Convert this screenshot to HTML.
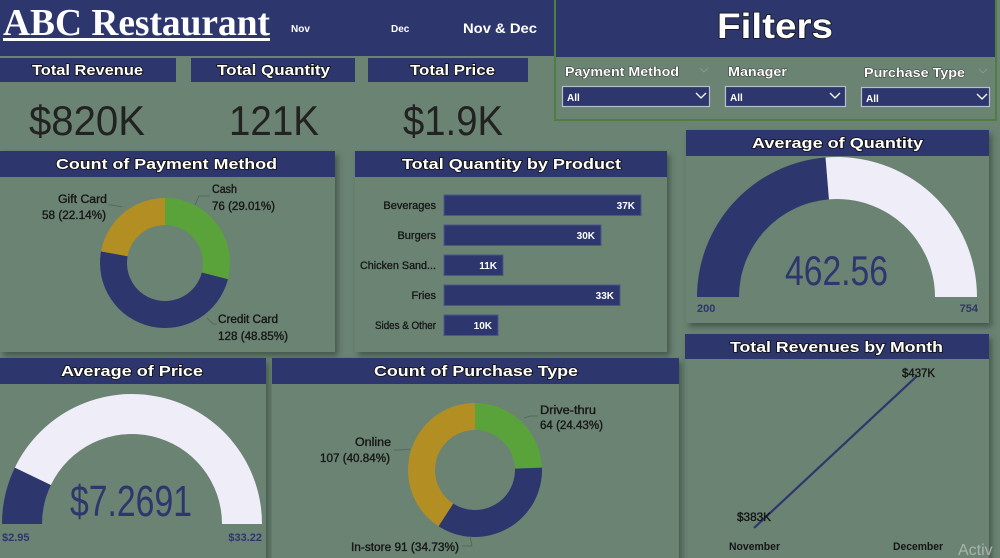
<!DOCTYPE html>
<html><head><meta charset="utf-8">
<style>
html,body{margin:0;padding:0;background:#6a8373;width:1000px;height:558px;overflow:hidden;}
svg{display:block;}
text{font-family:"Liberation Sans",sans-serif;}
.tt{font-weight:bold;fill:#fff;stroke:#111;stroke-width:1.6;paint-order:stroke;font-size:15px;}
.lb{font-size:11.5px;fill:#161616;stroke:#161616;stroke-width:0.35;}
.nv{fill:#2d376d;}
</style></head><body>
<svg width="1000" height="558" viewBox="0 0 1000 558" xmlns="http://www.w3.org/2000/svg">
<defs>
<filter id="sh" x="-5%" y="-5%" width="115%" height="115%">
<feDropShadow dx="3" dy="4" stdDeviation="3" flood-color="#2f3b33" flood-opacity="0.6"/>
</filter>
</defs>
<rect x="0" y="0" width="1000" height="558" fill="#6a8373"/>

<!-- header -->
<rect x="0" y="0" width="556" height="56" class="nv"/>
<text x="3" y="35" font-family="Liberation Serif" font-weight="bold" font-size="38" fill="#fff" textLength="267" lengthAdjust="spacingAndGlyphs" style="font-family:'Liberation Serif',serif">ABC Restaurant</text>
<rect x="3" y="38" width="267" height="3" fill="#fff"/>
<text x="291" y="32" font-size="10" font-weight="bold" fill="#fff">Nov</text>
<text x="391" y="32" font-size="10" font-weight="bold" fill="#fff">Dec</text>
<text x="463" y="33" font-size="13.5" font-weight="bold" fill="#fff" textLength="74" lengthAdjust="spacingAndGlyphs">Nov &amp; Dec</text>

<!-- filter panel -->
<rect x="555" y="0" width="441" height="120" fill="#6a8373" stroke="#4f7f40" stroke-width="2"/>
<rect x="556" y="0" width="439" height="57" class="nv"/>
<text x="775" y="38" text-anchor="middle" font-size="35" font-weight="bold" fill="#fff" stroke="#111" stroke-width="1.5" paint-order="stroke" textLength="116" lengthAdjust="spacingAndGlyphs">Filters</text>
<text x="565" y="76" font-size="12.5" font-weight="bold" fill="#fff" stroke="#222" stroke-width="0.8" paint-order="stroke" textLength="114" lengthAdjust="spacingAndGlyphs">Payment Method</text>
<text x="728" y="76" font-size="12.5" font-weight="bold" fill="#fff" stroke="#222" stroke-width="0.8" paint-order="stroke" textLength="59" lengthAdjust="spacingAndGlyphs">Manager</text>
<text x="864" y="77" font-size="12.5" font-weight="bold" fill="#fff" stroke="#222" stroke-width="0.8" paint-order="stroke" textLength="101" lengthAdjust="spacingAndGlyphs">Purchase Type</text>
<polyline points="700,68 704,72 708,68" fill="none" stroke="#8a9a8e" stroke-width="1"/>
<polyline points="979,69 983,73 987,69" fill="none" stroke="#8a9a8e" stroke-width="1"/>
<rect x="562.5" y="86.5" width="147" height="20" class="nv" stroke="#b9bfc9" stroke-width="1.2"/>
<rect x="725.5" y="86.5" width="120" height="20" class="nv" stroke="#b9bfc9" stroke-width="1.2"/>
<rect x="861.5" y="87.5" width="128" height="19" class="nv" stroke="#b9bfc9" stroke-width="1.2"/>
<text x="567" y="101" font-size="10" font-weight="bold" fill="#fff">All</text>
<text x="730" y="101" font-size="10" font-weight="bold" fill="#fff">All</text>
<text x="866" y="102" font-size="10" font-weight="bold" fill="#fff">All</text>
<polyline points="696,93 701,98 706,93" fill="none" stroke="#fff" stroke-width="1.3"/>
<polyline points="830,93 835,98 840,93" fill="none" stroke="#fff" stroke-width="1.3"/>
<polyline points="977,94 982,99 987,94" fill="none" stroke="#fff" stroke-width="1.3"/>

<!-- KPI -->
<rect x="0" y="58" width="176" height="24" class="nv"/>
<rect x="191" y="58" width="164" height="24" class="nv"/>
<rect x="368" y="58" width="160" height="24" class="nv"/>
<text x="32" y="75" class="tt" textLength="111" lengthAdjust="spacingAndGlyphs">Total Revenue</text>
<text x="217" y="75" class="tt" textLength="113" lengthAdjust="spacingAndGlyphs">Total Quantity</text>
<text x="410" y="75" class="tt" textLength="85" lengthAdjust="spacingAndGlyphs">Total Price</text>
<text x="29" y="135" font-size="42" fill="#222" textLength="116" lengthAdjust="spacingAndGlyphs">$820K</text>
<text x="229" y="135" font-size="42" fill="#222" textLength="90" lengthAdjust="spacingAndGlyphs">121K</text>
<text x="403" y="135" font-size="42" fill="#222" textLength="100" lengthAdjust="spacingAndGlyphs">$1.9K</text>

<!-- Panel: Count of Payment Method -->
<rect x="0" y="151" width="335" height="201" fill="#6a8373" filter="url(#sh)"/>
<rect x="0" y="151" width="335" height="26" class="nv"/>
<text x="56" y="169" class="tt" textLength="221" lengthAdjust="spacingAndGlyphs">Count of Payment Method</text>
<path d="M165,198 A65,65 0 0 1 227.95,279.21 L201.80,272.48 A38,38 0 0 0 165,225 Z" fill="#5aa33a"/>
<path d="M227.95,279.21 A65,65 0 0 1 101.05,251.38 L127.61,256.21 A38,38 0 0 0 201.80,272.48 Z" class="nv"/>
<path d="M101.05,251.38 A65,65 0 0 1 165,198 L165,225 A38,38 0 0 0 127.61,256.21 Z" fill="#b38f23"/>
<polyline points="122,207 112,205 108,205" fill="none" stroke="#52625a" stroke-width="0.8"/>
<polyline points="195,205 199,196 210,196" fill="none" stroke="#52625a" stroke-width="0.8"/>
<polyline points="207,318 213,324 217,324" fill="none" stroke="#52625a" stroke-width="0.8"/>
<text x="58" y="203" class="lb" textLength="49" lengthAdjust="spacingAndGlyphs">Gift Card</text>
<text x="42" y="219" class="lb" textLength="64" lengthAdjust="spacingAndGlyphs">58 (22.14%)</text>
<text x="212" y="193" class="lb" textLength="25" lengthAdjust="spacingAndGlyphs">Cash</text>
<text x="212" y="210" class="lb" textLength="63" lengthAdjust="spacingAndGlyphs">76 (29.01%)</text>
<text x="218" y="323" class="lb" textLength="60" lengthAdjust="spacingAndGlyphs">Credit Card</text>
<text x="218" y="340" class="lb" textLength="70" lengthAdjust="spacingAndGlyphs">128 (48.85%)</text>

<!-- Panel: Total Quantity by Product -->
<rect x="355" y="151" width="312" height="201" fill="#6a8373" filter="url(#sh)"/>
<rect x="355" y="151" width="312" height="26" class="nv"/>
<text x="402" y="169" class="tt" textLength="219" lengthAdjust="spacingAndGlyphs">Total Quantity by Product</text>
<g stroke="#4b568c" stroke-width="1">
<rect x="444" y="195" width="197" height="20.5" class="nv"/>
<rect x="444" y="225" width="157" height="20.5" class="nv"/>
<rect x="444" y="255" width="59" height="20.5" class="nv"/>
<rect x="444" y="285" width="176" height="20.5" class="nv"/>
<rect x="444" y="315" width="54" height="20.5" class="nv"/>
</g>
<g font-size="11" fill="#151515" stroke="#151515" stroke-width="0.3" text-anchor="end">
<text x="436" y="209">Beverages</text>
<text x="436" y="239">Burgers</text>
<text x="436" y="269" textLength="76" lengthAdjust="spacingAndGlyphs">Chicken Sand...</text>
<text x="436" y="299">Fries</text>
<text x="436" y="329" textLength="61" lengthAdjust="spacingAndGlyphs">Sides &amp; Other</text>
</g>
<g font-size="10" font-weight="bold" fill="#fff" text-anchor="end">
<text x="635" y="209">37K</text>
<text x="595" y="239">30K</text>
<text x="497" y="269">11K</text>
<text x="614" y="299">33K</text>
<text x="492" y="329">10K</text>
</g>

<!-- Panel: Average of Quantity -->
<rect x="686" y="130" width="303" height="193" fill="#6a8373" filter="url(#sh)"/>
<rect x="686" y="130" width="303" height="26" class="nv"/>
<text x="752" y="148" class="tt" textLength="171" lengthAdjust="spacingAndGlyphs">Average of Quantity</text>
<path d="M697,297 A140,140 0 0 1 825.53,157.47 L828.97,199.33 A98,98 0 0 0 739,297 Z" class="nv"/>
<path d="M825.53,157.47 A140,140 0 0 1 977,297 L935,297 A98,98 0 0 0 828.97,199.33 Z" fill="#efedf7"/>
<text x="785" y="285" font-size="42" fill="#2d376d" textLength="103" lengthAdjust="spacingAndGlyphs">462.56</text>
<text x="697" y="312" font-size="11" font-weight="bold" fill="#2d376d">200</text>
<text x="978" y="312" font-size="11" font-weight="bold" fill="#2d376d" text-anchor="end">754</text>

<!-- Panel: Total Revenues by Month -->
<rect x="685" y="334" width="304" height="230" fill="#6a8373" filter="url(#sh)"/>
<rect x="685" y="334" width="304" height="25" class="nv"/>
<text x="730" y="352" class="tt" textLength="213" lengthAdjust="spacingAndGlyphs">Total Revenues by Month</text>
<line x1="754" y1="528" x2="917" y2="376" stroke="#2d376d" stroke-width="2.2"/>
<text x="902" y="377" font-size="11.5" fill="#151515" stroke="#151515" stroke-width="0.35" textLength="33" lengthAdjust="spacingAndGlyphs">$437K</text>
<text x="737" y="521" font-size="11.5" fill="#151515" stroke="#151515" stroke-width="0.35" textLength="34" lengthAdjust="spacingAndGlyphs">$383K</text>
<text x="729" y="550" font-size="11" font-weight="bold" fill="#151515" textLength="51" lengthAdjust="spacingAndGlyphs">November</text>
<text x="893" y="550" font-size="11" font-weight="bold" fill="#151515" textLength="50" lengthAdjust="spacingAndGlyphs">December</text>
<text x="958" y="555" font-size="16" fill="#a9b4ad">Activ</text>

<!-- Panel: Average of Price -->
<rect x="0" y="358" width="266" height="205" fill="#6a8373" filter="url(#sh)"/>
<rect x="0" y="358" width="266" height="26" class="nv"/>
<text x="61" y="376" class="tt" textLength="142" lengthAdjust="spacingAndGlyphs">Average of Price</text>
<path d="M2,524 A130,130 0 0 1 14.86,467.62 L50.90,484.97 A90,90 0 0 0 42,524 Z" class="nv"/>
<path d="M14.86,467.62 A130,130 0 0 1 262,524 L222,524 A90,90 0 0 0 50.90,484.97 Z" fill="#efedf7"/>
<text x="70" y="516" font-size="44" fill="#2d376d" textLength="122" lengthAdjust="spacingAndGlyphs">$7.2691</text>
<text x="2" y="541" font-size="11" font-weight="bold" fill="#2d376d">$2.95</text>
<text x="262" y="541" font-size="11" font-weight="bold" fill="#2d376d" text-anchor="end">$33.22</text>

<!-- Panel: Count of Purchase Type -->
<rect x="272" y="358" width="407" height="205" fill="#6a8373" filter="url(#sh)"/>
<rect x="272" y="358" width="407" height="26" class="nv"/>
<text x="374" y="376" class="tt" textLength="204" lengthAdjust="spacingAndGlyphs">Count of Purchase Type</text>
<path d="M475,403 A67,67 0 0 1 541.96,467.60 L514.97,468.57 A40,40 0 0 0 475,430 Z" fill="#5aa33a"/>
<path d="M541.96,467.60 A67,67 0 0 1 438.52,526.20 L453.22,503.55 A40,40 0 0 0 514.97,468.57 Z" class="nv"/>
<path d="M438.52,526.20 A67,67 0 0 1 475,403 L475,430 A40,40 0 0 0 453.22,503.55 Z" fill="#b38f23"/>
<polyline points="524,418 530,416 538,416" fill="none" stroke="#52625a" stroke-width="0.8"/>
<polyline points="410,449 400,450 394,450" fill="none" stroke="#52625a" stroke-width="0.8"/>
<polyline points="470,536 472,546 462,546" fill="none" stroke="#52625a" stroke-width="0.8"/>
<text x="540" y="414" class="lb" textLength="56" lengthAdjust="spacingAndGlyphs">Drive-thru</text>
<text x="540" y="429" class="lb" textLength="63" lengthAdjust="spacingAndGlyphs">64 (24.43%)</text>
<text x="355" y="446" class="lb" textLength="36" lengthAdjust="spacingAndGlyphs">Online</text>
<text x="320" y="462" class="lb" textLength="70" lengthAdjust="spacingAndGlyphs">107 (40.84%)</text>
<text x="351" y="551" class="lb" textLength="108" lengthAdjust="spacingAndGlyphs">In-store 91 (34.73%)</text>
</svg>
</body></html>
